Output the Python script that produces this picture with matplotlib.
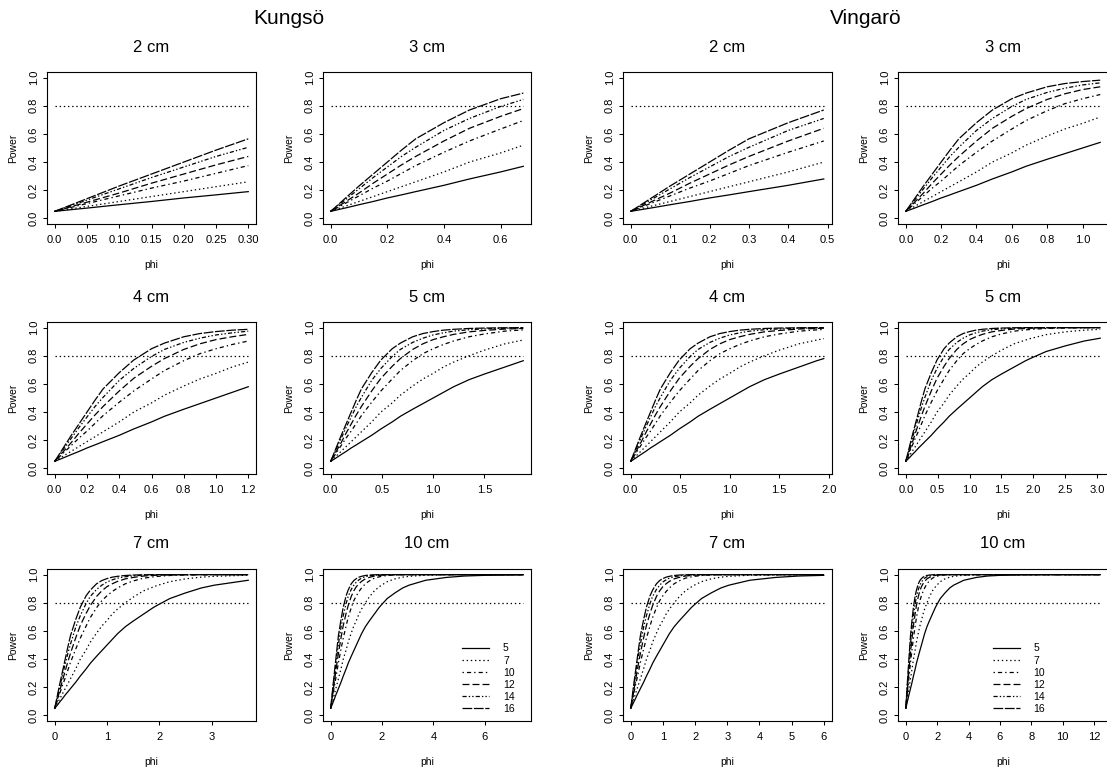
"""
Power curves for Kungsö and Vingarö, by mesh size and sample size
"""

import matplotlib
matplotlib.use('Agg')  # no display
import matplotlib.pyplot as plt

plt.rcParams['font.family'] = ['Liberation Sans', 'DejaVu Sans']
plt.rcParams['lines.scale_dashes'] = False

# --- data ---------------------------------------------------------------
# power as a function of phi (same curve family in every panel)
PHI = [0, 0.05, 0.1, 0.15, 0.2, 0.25, 0.3, 0.4, 0.49, 0.6, 0.68, 0.8, 0.9,
       1.0, 1.1, 1.2, 1.35, 1.5, 1.7, 1.88, 1.95, 2.2, 2.5, 2.8, 3.05, 3.7,
       4.5, 5.2, 6.0, 7.5, 9.0, 10.5, 12.4]

power_n5 = [0.05, 0.073, 0.097, 0.12, 0.145, 0.167, 0.19, 0.235, 0.28, 0.33,
            0.37, 0.42, 0.46, 0.50, 0.54, 0.58, 0.63, 0.67, 0.72, 0.765, 0.78,
            0.83, 0.87, 0.905, 0.925, 0.96, 0.98, 0.99, 0.995, 0.999, 1.0,
            1.0, 1.0]
power_n7 = [0.05, 0.085, 0.12, 0.155, 0.19, 0.225, 0.26, 0.33, 0.40, 0.465,
            0.52, 0.585, 0.635, 0.675, 0.72, 0.755, 0.80, 0.84, 0.885, 0.912,
            0.922, 0.95, 0.97, 0.982, 0.988, 0.996, 0.999, 1.0, 1.0, 1.0,
            1.0, 1.0, 1.0]
power_n10 = [0.05, 0.105, 0.16, 0.215, 0.265, 0.32, 0.375, 0.47, 0.55, 0.635,
             0.695, 0.765, 0.815, 0.85, 0.88, 0.905, 0.935, 0.955, 0.975,
             0.984, 0.987, 0.994, 0.998, 0.999, 1.0, 1.0, 1.0, 1.0, 1.0, 1.0,
             1.0, 1.0, 1.0]
power_n12 = [0.05, 0.115, 0.18, 0.25, 0.315, 0.38, 0.44, 0.55, 0.64, 0.725,
             0.78, 0.845, 0.885, 0.915, 0.935, 0.952, 0.97, 0.98, 0.99, 0.994,
             0.996, 0.998, 0.999, 1.0, 1.0, 1.0, 1.0, 1.0, 1.0, 1.0, 1.0,
             1.0, 1.0]
power_n14 = [0.05, 0.13, 0.21, 0.29, 0.365, 0.44, 0.505, 0.625, 0.71, 0.795,
             0.845, 0.895, 0.925, 0.948, 0.963, 0.975, 0.985, 0.991, 0.996,
             0.998, 0.998, 0.999, 1.0, 1.0, 1.0, 1.0, 1.0, 1.0, 1.0, 1.0,
             1.0, 1.0, 1.0]
power_n16 = [0.05, 0.14, 0.23, 0.315, 0.40, 0.485, 0.565, 0.68, 0.77, 0.85,
             0.89, 0.935, 0.958, 0.972, 0.982, 0.988, 0.994, 0.997, 0.999,
             1.0, 1.0, 1.0, 1.0, 1.0, 1.0, 1.0, 1.0, 1.0, 1.0, 1.0, 1.0,
             1.0, 1.0]

SAMPLE_SIZES = ['5', '7', '10', '12', '14', '16']
POWER_TARGET = 0.8

SITES = ['Kungsö', 'Vingarö']
MESH = ['2 cm', '3 cm', '4 cm', '5 cm', '7 cm', '10 cm']
phi_max_kungso = [0.3, 0.68, 1.2, 1.88, 3.7, 7.5]
phi_max_vingaro = [0.49, 1.1, 1.95, 3.05, 6.0, 12.4]

xticks_kungso = [
    [0.0, 0.05, 0.10, 0.15, 0.20, 0.25, 0.30],
    [0.0, 0.2, 0.4, 0.6],
    [0.0, 0.2, 0.4, 0.6, 0.8, 1.0, 1.2],
    [0.0, 0.5, 1.0, 1.5],
    [0, 1, 2, 3],
    [0, 2, 4, 6],
]
xlabels_kungso = [
    ['0.0', '0.05', '0.10', '0.15', '0.20', '0.25', '0.30'],
    ['0.0', '0.2', '0.4', '0.6'],
    ['0.0', '0.2', '0.4', '0.6', '0.8', '1.0', '1.2'],
    ['0.0', '0.5', '1.0', '1.5'],
    ['0', '1', '2', '3'],
    ['0', '2', '4', '6'],
]
xticks_vingaro = [
    [0.0, 0.1, 0.2, 0.3, 0.4, 0.5],
    [0.0, 0.2, 0.4, 0.6, 0.8, 1.0],
    [0.0, 0.5, 1.0, 1.5, 2.0],
    [0.0, 0.5, 1.0, 1.5, 2.0, 2.5, 3.0],
    [0, 1, 2, 3, 4, 5, 6],
    [0, 2, 4, 6, 8, 10, 12],
]
xlabels_vingaro = [
    ['0.0', '0.1', '0.2', '0.3', '0.4', '0.5'],
    ['0.0', '0.2', '0.4', '0.6', '0.8', '1.0'],
    ['0.0', '0.5', '1.0', '1.5', '2.0'],
    ['0.0', '0.5', '1.0', '1.5', '2.0', '2.5', '3.0'],
    ['0', '1', '2', '3', '4', '5', '6'],
    ['0', '2', '4', '6', '8', '10', '12'],
]

# --- styles ---------------------------------------------------------------
LINESTYLES = [
    '-',
    (0, (1, 2)),
    (0, (1, 2.2, 3, 2.2)),
    (0, (5, 2.2)),
    (0, (3, 1.5, 1, 1.5, 1, 1.5)),
    (0, (7, 1.2)),
]
LW = 0.9

W, H = 1107, 769
COL_LEFT = [47, 323, 623, 898]
COL_WIDTH = [209, 208, 208.5, 210]
ROW_TOP = [72, 322, 569]
ROW_HEIGHT = 152


def panel_rect(row, col):
    left = COL_LEFT[col] / W
    bottom = 1 - (ROW_TOP[row] + ROW_HEIGHT) / H
    return [left, bottom, COL_WIDTH[col] / W, ROW_HEIGHT / H]


def draw_panel(ax, title, phi_max, ticks, labels, legend_x=None):
    curves = [power_n5, power_n7, power_n10, power_n12, power_n14, power_n16]
    keep = [i for i, p in enumerate(PHI) if p <= phi_max + 1e-9]
    xs = [PHI[i] for i in keep]
    handles = []
    for values, ls, lab in zip(curves, LINESTYLES, SAMPLE_SIZES):
        line, = ax.plot(xs, [values[i] for i in keep], color='black', lw=LW,
                        linestyle=ls, label=lab)
        handles.append(line)
    ax.plot([0, phi_max], [POWER_TARGET, POWER_TARGET], color='black', lw=LW,
            linestyle=(0, (1, 2)))

    ax.set_xlim(-0.04 * phi_max, 1.04 * phi_max)
    ax.set_ylim(-0.04, 1.04)
    ax.set_xticks(ticks)
    ax.set_xticklabels(labels)
    ax.set_yticks([0.0, 0.2, 0.4, 0.6, 0.8, 1.0])
    ax.set_yticklabels(['0.0', '0.2', '0.4', '0.6', '0.8', '1.0'],
                       rotation=90, va='center')
    ax.tick_params(direction='out', length=3, width=0.75, labelsize=8,
                   color='black')
    ax.tick_params(axis='x', pad=5)
    ax.tick_params(axis='y', pad=3)
    for sp in ax.spines.values():
        sp.set_linewidth(0.8)
        sp.set_color('black')

    ax.text(0.5, 1 + 25 / ROW_HEIGHT, title, transform=ax.transAxes,
            ha='center', va='center', fontsize=12)
    ax.text(0.5, -41 / ROW_HEIGHT, 'phi', transform=ax.transAxes,
            ha='center', va='center', fontsize=7.5)
    ax.text(-34 / COL_WIDTH[0], 0.5, 'Power', transform=ax.transAxes,
            ha='center', va='center', rotation=90, fontsize=7.5)

    if legend_x is not None:
        ax.legend(handles=handles, loc='upper left',
                  bbox_to_anchor=(legend_x, 0.51), frameon=False,
                  fontsize=7.5, handlelength=2.6, handletextpad=1.3,
                  labelspacing=0.2, borderpad=0, borderaxespad=0)


fig = plt.figure(figsize=(W / 100, H / 100), dpi=100)
fig.patch.set_facecolor('white')

site_specs = [
    (phi_max_kungso, xticks_kungso, xlabels_kungso, 0, 0.67),
    (phi_max_vingaro, xticks_vingaro, xlabels_vingaro, 2, 0.45),
]
for site, (maxes, ticks, labels, col0, leg_x) in zip(SITES, site_specs):
    for k, mesh in enumerate(MESH):
        row, col = k // 2, col0 + k % 2
        ax = fig.add_axes(panel_rect(row, col))
        draw_panel(ax, mesh, maxes[k], ticks[k], labels[k],
                   legend_x=leg_x if k == len(MESH) - 1 else None)
    # site heading centred over its two columns
    left = COL_LEFT[col0]
    right = COL_LEFT[col0 + 1] + COL_WIDTH[col0 + 1]
    fig.text((left + right) / 2 / W, 1 - 18 / H, site, ha='center',
             va='center', fontsize=15)

fig.savefig('out.png', dpi=100)
